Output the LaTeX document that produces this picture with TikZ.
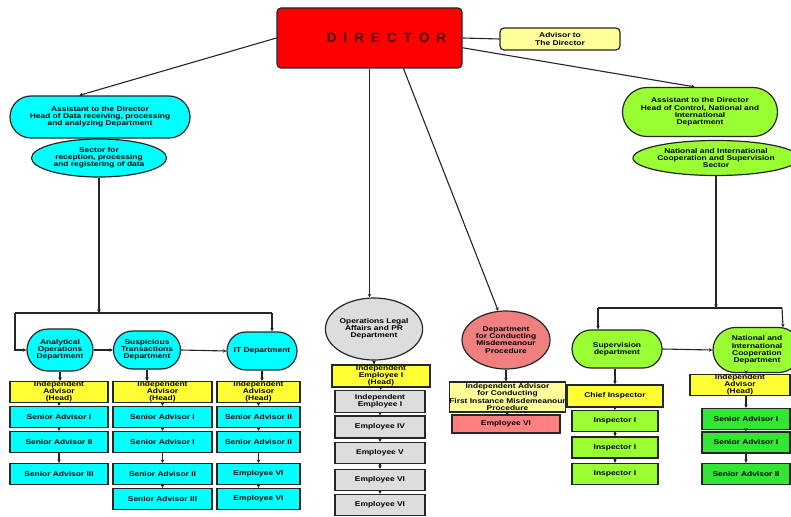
\documentclass[tikz,border=0pt]{standalone}
\usepackage{fontspec}
\setmainfont{Liberation Sans}
\newfontfamily\chartfont[FakeStretch=1.22]{Liberation Sans}
\usepackage{xcolor}
\usetikzlibrary{arrows.meta,positioning,shapes.geometric,shapes.misc,calc}

\definecolor{dirred}{HTML}{FF0000}
\definecolor{advyellow}{HTML}{FFFF99}
\definecolor{headyellow}{HTML}{FFFF33}
\definecolor{cyanfill}{HTML}{00FFFF}
\definecolor{limegreen}{HTML}{99FF33}
\definecolor{deepgreen}{HTML}{33E633}
\definecolor{greyfill}{HTML}{DDDDDD}
\definecolor{salmon}{HTML}{F08080}
\definecolor{pinkbox}{HTML}{FF8080}
\definecolor{dirtext}{HTML}{4A0A0A}

\begin{document}
\begin{tikzpicture}[
  x=1pt, y=-1pt,
  >={Stealth[length=3.5pt,width=3.5pt]},
  unit/.style={draw=black!85, line width=1.2pt, align=center, inner sep=0pt,
    font=\chartfont\fontsize{6.9}{7.2}\selectfont\bfseries},
  post/.style 2 args={unit, rectangle, minimum width=#1, minimum height=#2},
  pill/.style 2 args={unit, rounded rectangle, minimum width=#1, minimum height=#2},
  oval/.style 2 args={unit, ellipse, minimum width=#1, minimum height=#2},
  link/.style={draw=black!85, line width=1.1pt},
  arr/.style={link, ->},
]
\path[use as bounding box, fill=white] (0,0) rectangle (791,516);

% Top level
\node[post={185}{60}, fill=dirred, rounded corners=4pt,
  font=\fontsize{13.5}{13.5}\selectfont\bfseries, text=dirtext] (dir) at (369.5,38)
  {\raisebox{-4pt}{\hspace*{34pt}D\hspace{7pt}I\hspace{7pt}R\hspace{7pt}E\hspace{7pt}C\hspace{7pt}T\hspace{7pt}O\hspace{7pt}R}};
\node[post={120}{22}, fill=advyellow, rounded corners=4pt] (adv) at (560,39) {Advisor to\\The Director};

% Assistants
\node[pill={180}{42}, fill=cyanfill] (dat) at (100,117)
  {Assistant to the Director\\Head of Data receiving, processing\\and analyzing Department};
\node[oval={135}{38}, fill=cyanfill] (rcp) at (99,158)
  {Sector for\\reception, processing\\and registering of data};
\node[pill={155}{49}, fill=limegreen] (ctl) at (700,112)
  {Assistant to the Director\\Head of Control, National and\\International\\Department};
\node[oval={125}{35}, fill=limegreen] (coop) at (716,158)
  {National and International\\Cooperation and Supervision\\Sector};

\draw[link] (dir.east) -- (adv.west);
\draw[arr] (dir.west) -- (dat.134);
\draw[arr] (dir.-6) -- (ctl.102);

% Data departments
\node[pill={66}{42}, fill=cyanfill] (ana) at (60,350) {Analytical\\Operations\\Department};
\node[pill={67}{38}, fill=cyanfill] (sus) at (147,350) {Suspicious\\Transactions\\Department};
\node[pill={70}{38}, fill=cyanfill] (itd) at (262,351) {IT Department};

\coordinate (lbus) at (99,313);
\coordinate (lbusL) at (15,313);
\coordinate (lbusR) at (272,313);
\draw[arr] (rcp.south) -- (lbus);
\draw[link] (lbusL) -- (lbusR);
\draw[arr] (lbusL) |- (ana.west);
\draw[arr] (lbusR) -- (lbusR |- itd.north);
\draw[arr] (ana.east) -- (sus.west);
\draw[arr] (sus.east) -- (itd.west);

% Staff of data departments
\foreach \col/\x/\w in {a/59/98, b/162.5/99, c/258.5/83}
  \node[post={\w}{20}, fill=headyellow] (\col0) at (\x,392) {Independent\\Advisor\\(Head)};
\foreach \n/\x/\w/\y/\t in {a1/59/98/417/Senior Advisor I, a2/59/98/442/Senior Advisor II,
    a3/59/98/474/Senior Advisor III,
    b1/162.5/99/417/Senior Advisor I, b2/162.5/99/442/Senior Advisor I,
    b3/162.5/99/474/Senior Advisor II, b4/162.5/99/499/Senior Advisor III,
    c1/258.5/83/417/Senior Advisor II, c2/258.5/83/442/Senior Advisor II,
    c3/258.5/83/474/Employee VI, c4/258.5/83/499/Employee VI}
  \node[post={\w}{21}, fill=cyanfill] (\n) at (\x,\y) {\t};
\draw[arr] (ana.south) -- (ana.south |- a0.north);
\draw[arr] (sus.south) -- (sus.south |- b0.north);
\draw[arr] (itd.south) -- (itd.south |- c0.north);
\foreach \u/\v in {a0/a1, a1/a2, a2/a3, b0/b1, b1/b2, b2/b3, b3/b4, c0/c1, c1/c2, c2/c3, c3/c4}
  \draw[arr] (\u.south) -- (\v.north);

% Legal affairs
\node[oval={92}{62}, fill=greyfill] (ops) at (374,329) {Operations Legal\\Affairs and PR\\Department};
\node[post={98}{22}, fill=headyellow] (o0) at (381,376) {Independent\\Employee I\\(Head)};
\foreach \n/\y/\h/\t in {o1/401.5/22/{Independent\\Employee I}, o2/427/22/Employee IV,
    o3/453/21/Employee V, o4/480/21/Employee VI, o5/505/21/Employee VI}
  \node[post={90}{\h}, fill=greyfill] (\n) at (380,\y) {\t};
\draw[arr] (dir.south) -- (dir.south |- ops.north);
\draw[arr] (ops.south) -- (ops.south |- o0.north);
\foreach \u/\v in {o0/o1, o1/o2, o2/o3, o3/o4, o4/o5}
  \draw[arr] (\u.south) -- (\v.north);

% Misdemeanour
\node[oval={88}{58}, fill=salmon] (mis) at (506,340) {Department\\for Conducting\\Misdemeanour\\Procedure};
\node[post={111}{30}, fill=advyellow] (m0) at (507.5,397)
  {Independent Advisor\\for Conducting\\First Instance Misdemeanour\\Procedure};
\node[post={108}{18}, fill=pinkbox] (m1) at (506,424) {Employee VI};
\draw[arr] (dir.-42) -- (mis.105);
\draw[arr] (mis.south) -- (mis.south |- m0.north);
\draw[arr] (m0.south) -- (m1.north);

% Supervision and cooperation
\node[pill={90}{38}, fill=limegreen] (sup) at (617,349) {Supervision\\department};
\node[pill={88}{45}, fill=limegreen] (nat) at (757,350) {National and\\International\\Cooperation\\Department};
\coordinate (rbus) at (716,308);
\coordinate (rbusL) at (598,308);
\coordinate (rbusR) at (782,308);
\draw[arr] (coop.south) -- (rbus);
\draw[link] (rbusL) -- (rbusR);
\draw[arr] (rbusL) -- (rbusL |- sup.north);
\draw[arr] (rbusR) -- (nat.41);
\draw[arr] (sup.east) -- (nat.west);

\node[post={96}{22}, fill=headyellow] (i0) at (615,396) {Chief Inspector};
\foreach \n/\y in {i1/421, i2/447.5, i3/474}
  \node[post={86}{21}, fill=limegreen] (\n) at (615,\y) {Inspector I};
\node[post={100}{20}, fill=headyellow] (g0) at (740,385) {Independent\\Advisor\\(Head)};
\foreach \n/\y/\t in {g1/419/Senior Advisor I, g2/442.5/Senior Advisor I, g3/474/Senior Advisor II}
  \node[post={88}{21}, fill=deepgreen] (\n) at (746,\y) {\t};
\draw[arr] (sup.south -| i0.north) -- (i0.north);
\draw[arr] (nat.south -| g1.north) -- (g0.north -| g1.north);
\foreach \u/\v in {i0/i1, i1/i2, i2/i3}
  \draw[arr] (\u.south) -- (\v.north);
\draw[arr] (g0.south -| g1.north) -- (g1.north);
\foreach \u/\v in {g1/g2, g2/g3}
  \draw[arr] (\u.south) -- (\v.north);
\end{tikzpicture}
\end{document}
